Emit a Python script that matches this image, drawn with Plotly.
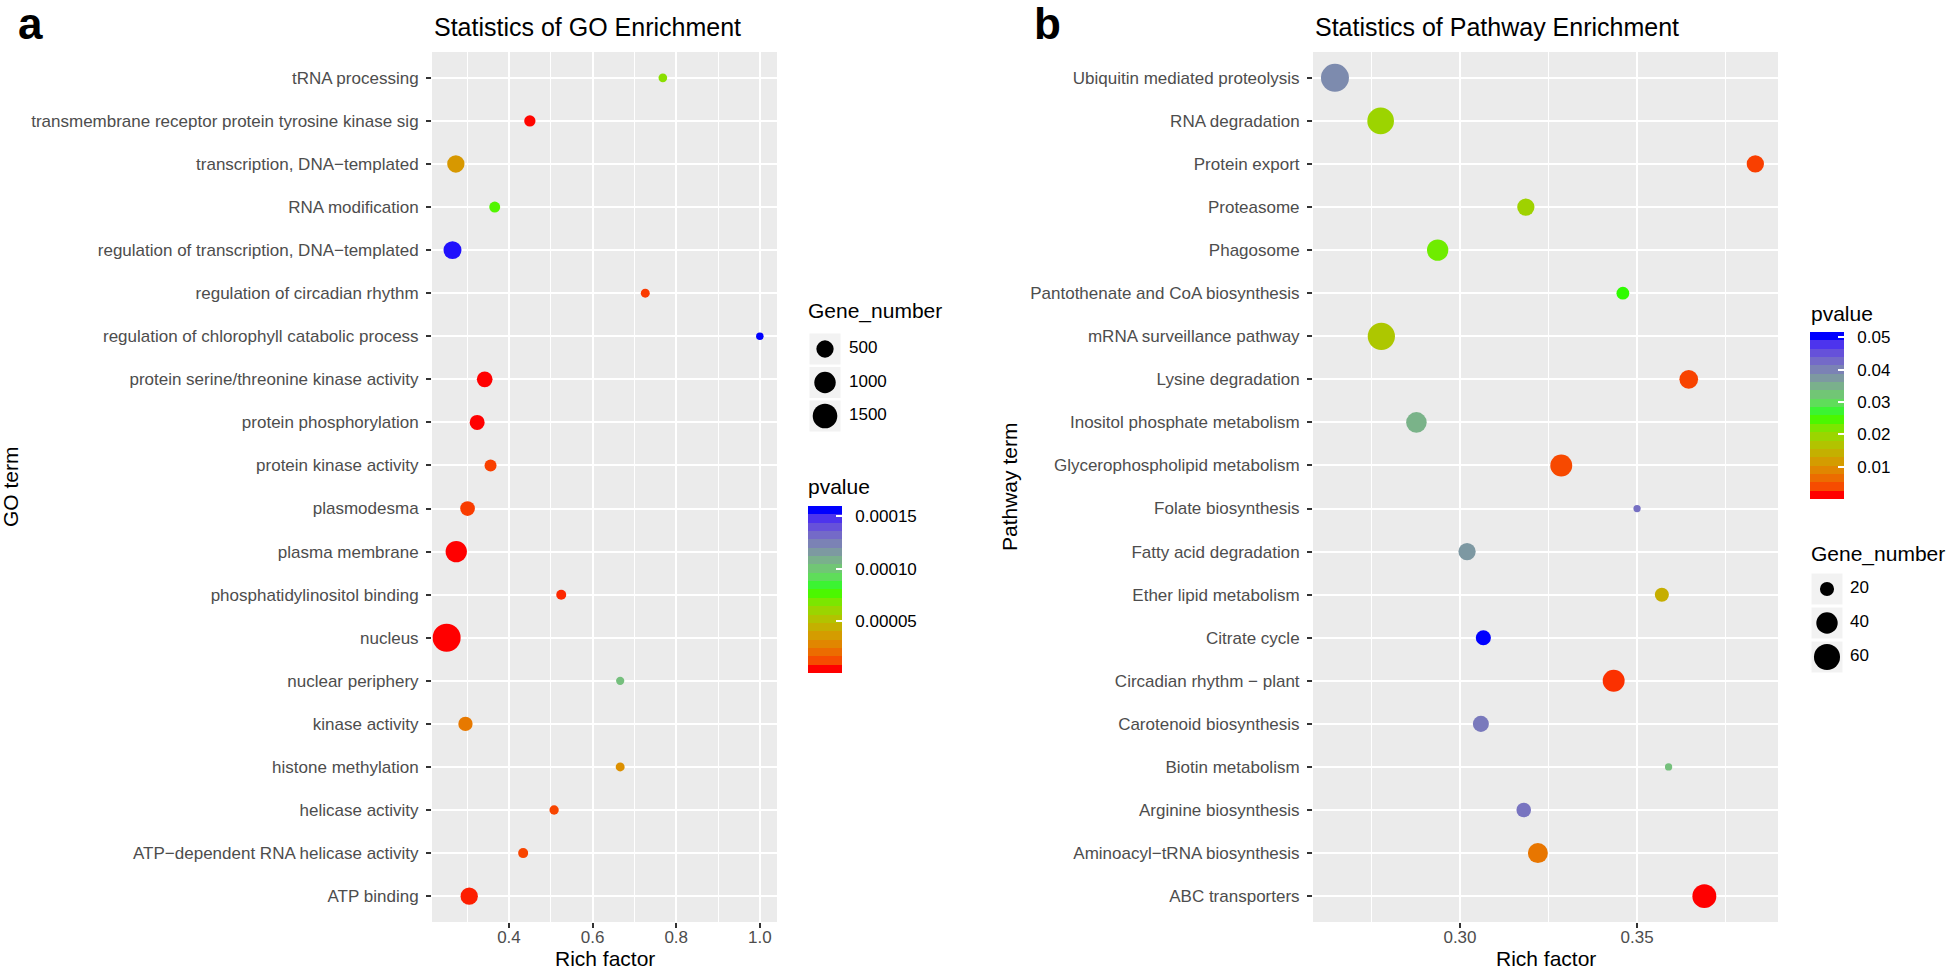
import math
import plotly.graph_objects as go

# ---------------- data ----------------
go_terms = [
    "tRNA processing",
    "transmembrane receptor protein tyrosine kinase sig",
    "transcription, DNA\u2212templated",
    "RNA modification",
    "regulation of transcription, DNA\u2212templated",
    "regulation of circadian rhythm",
    "regulation of chlorophyll catabolic process",
    "protein serine/threonine kinase activity",
    "protein phosphorylation",
    "protein kinase activity",
    "plasmodesma",
    "plasma membrane",
    "phosphatidylinositol binding",
    "nucleus",
    "nuclear periphery",
    "kinase activity",
    "histone methylation",
    "helicase activity",
    "ATP\u2212dependent RNA helicase activity",
    "ATP binding",
]
go_rich = [0.768, 0.450, 0.273, 0.366, 0.265, 0.726, 1.000, 0.342, 0.324, 0.356,
           0.301, 0.274, 0.525, 0.251, 0.666, 0.296, 0.666, 0.508, 0.434, 0.305]
go_genes = [17, 84, 500, 72, 570, 21, 10, 353, 296, 113,
            274, 980, 42, 2150, 13, 246, 21, 27, 42, 500]
go_pvalue = [6.4e-5, 2e-7, 3.2e-5, 7.5e-5, 1.585e-4, 5e-6, 1.6e-4, 1e-9, 1e-9, 6e-6,
             5.5e-6, 1e-12, 2.5e-6, 1e-30, 1.04e-4, 2.1e-5, 2.9e-5, 7e-6, 7e-6, 1.6e-6]

path_terms = [
    "Ubiquitin mediated proteolysis",
    "RNA degradation",
    "Protein export",
    "Proteasome",
    "Phagosome",
    "Pantothenate and CoA biosynthesis",
    "mRNA surveillance pathway",
    "Lysine degradation",
    "Inositol phosphate metabolism",
    "Glycerophospholipid metabolism",
    "Folate biosynthesis",
    "Fatty acid degradation",
    "Ether lipid metabolism",
    "Citrate cycle",
    "Circadian rhythm \u2212 plant",
    "Carotenoid biosynthesis",
    "Biotin metabolism",
    "Arginine biosynthesis",
    "Aminoacyl\u2212tRNA biosynthesis",
    "ABC transporters",
]
path_rich = [0.2647, 0.2776, 0.3834, 0.3186, 0.2937, 0.3460, 0.2778, 0.3646, 0.2877, 0.3286,
             0.3500, 0.3020, 0.3570, 0.3066, 0.3434, 0.3059, 0.3589, 0.3180, 0.3220, 0.3690]
path_genes = [70, 63, 27, 27, 40, 18, 66, 31, 37, 42,
              14, 27, 20, 22, 42, 24, 14, 21, 35, 50]
path_pvalue = [0.0397, 0.0190, 0.0020, 0.0186, 0.0227, 0.0253, 0.0170, 0.0022, 0.0350, 0.0026,
               0.0428, 0.0382, 0.0134, 0.0516, 0.0013, 0.0418, 0.0335, 0.0423, 0.0065, 0.0001]

go_size_breaks = [500, 1000, 1500]
path_size_breaks = [20, 40, 60]
go_p_ticks = [0.00005, 0.00010, 0.00015]
go_p_labels = ["0.00005", "0.00010", "0.00015"]
path_p_ticks = [0.01, 0.02, 0.03, 0.04, 0.05]
path_p_labels = ["0.01", "0.02", "0.03", "0.04", "0.05"]

# ---------------- colour scale (Lab interpolation red -> green -> blue) ----------------
def _lin(c):
    c = c / 255.0
    return c / 12.92 if c <= 0.04045 else ((c + 0.055) / 1.055) ** 2.4

def _gam(c):
    c = max(0.0, min(1.0, c))
    v = 12.92 * c if c <= 0.0031308 else 1.055 * c ** (1 / 2.4) - 0.055
    return int(round(v * 255))

WHITE = (0.95047, 1.0, 1.08883)

def rgb2lab(rgb):
    r, g, b = (_lin(v) for v in rgb)
    X = 0.4124 * r + 0.3576 * g + 0.1805 * b
    Y = 0.2126 * r + 0.7152 * g + 0.0722 * b
    Z = 0.0193 * r + 0.1192 * g + 0.9505 * b
    def f(t):
        return t ** (1 / 3) if t > 216 / 24389 else (24389 / 27 * t + 16) / 116
    fx, fy, fz = f(X / WHITE[0]), f(Y / WHITE[1]), f(Z / WHITE[2])
    return (116 * fy - 16, 500 * (fx - fy), 200 * (fy - fz))

def lab2rgb(lab):
    L, a, b = lab
    fy = (L + 16) / 116
    fx = fy + a / 500
    fz = fy - b / 200
    def finv(t):
        return t ** 3 if t ** 3 > 216 / 24389 else (116 * t - 16) / (24389 / 27)
    X, Y, Z = finv(fx) * WHITE[0], finv(fy) * WHITE[1], finv(fz) * WHITE[2]
    r = 3.2406 * X - 1.5372 * Y - 0.4986 * Z
    g = -0.9689 * X + 1.8758 * Y + 0.0415 * Z
    bb = 0.0557 * X - 0.2040 * Y + 1.0570 * Z
    return (_gam(r), _gam(g), _gam(bb))

ANCHORS = [rgb2lab((255, 0, 0)), rgb2lab((0, 255, 0)), rgb2lab((0, 0, 255))]

def ramp(t):
    seg = min(int(t * 2), 1)
    u = t * 2 - seg
    a, b = ANCHORS[seg], ANCHORS[seg + 1]
    lab = tuple(a[i] + (b[i] - a[i]) * u for i in range(3))
    r, g, bl = lab2rgb(lab)
    return f"rgb({r},{g},{bl})"

smooth_scale = [[i / 200, ramp(i / 200)] for i in range(201)]
stepped_scale = []
for i in range(20):
    c = ramp(i / 19)
    stepped_scale.append([i / 20, c])
    stepped_scale.append([(i + 1) / 20, c])

# ---------------- size scale (area-like, ggplot style) ----------------
def size_scale(values, lo, hi, dmin, dmax):
    return [dmin + (dmax - dmin) * math.sqrt(max(v - lo, 0) / (hi - lo)) for v in values]

GO_D = (7.5, 28.0)
PATH_D = (7.3, 28.0)
go_lo, go_hi = min(go_genes), max(go_genes)
path_lo, path_hi = min(path_genes), max(path_genes)

# ---------------- layout helpers ----------------
W, H = 1946, 969
FONT = "Liberation Sans"

def px(x):
    return x / W

def py(y):
    return 1 - y / H

fig = go.Figure()

# main point traces
fig.add_trace(go.Scatter(
    x=go_rich, y=go_terms, mode="markers", xaxis="x", yaxis="y",
    marker=dict(size=size_scale(go_genes, go_lo, go_hi, *GO_D), sizemode="diameter",
                color=go_pvalue, colorscale=smooth_scale,
                cmin=min(go_pvalue), cmax=max(go_pvalue), showscale=False,
                line=dict(width=0), opacity=1),
    showlegend=False, hoverinfo="x+y"))
fig.add_trace(go.Scatter(
    x=go_rich, y=go_terms, mode="markers", xaxis="x", yaxis="y",
    marker=dict(size=1, color=go_pvalue, colorscale=stepped_scale, opacity=0,
                cmin=min(go_pvalue), cmax=max(go_pvalue), showscale=True,
                colorbar=dict(x=px(808), xanchor="left", xpad=0, ypad=0,
                              y=py(589.5), yanchor="middle", lenmode="pixels", len=167,
                              thicknessmode="pixels", thickness=34, outlinewidth=0,
                              tickvals=go_p_ticks,
                              ticktext=["\u00a0\u00a0" + t for t in go_p_labels],
                              ticks="inside", ticklen=6, tickcolor="white", tickwidth=1.5,
                              tickfont=dict(family=FONT, size=17, color="black"))),
    showlegend=False, hoverinfo="skip"))

fig.add_trace(go.Scatter(
    x=path_rich, y=path_terms, mode="markers", xaxis="x2", yaxis="y2",
    marker=dict(size=size_scale(path_genes, path_lo, path_hi, *PATH_D), sizemode="diameter",
                color=path_pvalue, colorscale=smooth_scale,
                cmin=min(path_pvalue), cmax=max(path_pvalue), showscale=False,
                line=dict(width=0), opacity=1),
    showlegend=False, hoverinfo="x+y"))
fig.add_trace(go.Scatter(
    x=path_rich, y=path_terms, mode="markers", xaxis="x2", yaxis="y2",
    marker=dict(size=1, color=path_pvalue, colorscale=stepped_scale, opacity=0,
                cmin=min(path_pvalue), cmax=max(path_pvalue), showscale=True,
                colorbar=dict(x=px(1810), xanchor="left", xpad=0, ypad=0,
                              y=py(415.5), yanchor="middle", lenmode="pixels", len=167,
                              thicknessmode="pixels", thickness=34, outlinewidth=0,
                              tickvals=path_p_ticks,
                              ticktext=["\u00a0\u00a0" + t for t in path_p_labels],
                              ticks="inside", ticklen=6, tickcolor="white", tickwidth=1.5,
                              tickfont=dict(family=FONT, size=17, color="black"))),
    showlegend=False, hoverinfo="skip"))

# size legends (drawn on their own hidden axes)
def add_size_legend(breaks, lo, hi, dmin, dmax, xa, ya, key_x, lab_x):
    rows = list(range(len(breaks)))
    fig.add_trace(go.Scatter(x=[key_x] * len(breaks), y=rows, mode="markers", xaxis=xa, yaxis=ya,
                             marker=dict(symbol="square", size=31, color="#F2F2F2", line=dict(width=0)),
                             showlegend=False, hoverinfo="skip"))
    fig.add_trace(go.Scatter(x=[key_x] * len(breaks), y=rows, mode="markers", xaxis=xa, yaxis=ya,
                             marker=dict(size=size_scale(breaks, lo, hi, dmin, dmax), sizemode="diameter",
                                         color="#000000", opacity=1, line=dict(width=0)),
                             showlegend=False, hoverinfo="skip"))
    fig.add_trace(go.Scatter(x=[lab_x] * len(breaks), y=rows, mode="text", xaxis=xa, yaxis=ya,
                             text=[str(b) for b in breaks], textposition="middle right",
                             textfont=dict(family=FONT, size=17, color="black"),
                             showlegend=False, hoverinfo="skip"))

add_size_legend(go_size_breaks, go_lo, go_hi, *GO_D, "x3", "y3", 825, 849)
add_size_legend(path_size_breaks, path_lo, path_hi, *PATH_D, "x4", "y4", 1827, 1850)

tick_font = dict(family=FONT, size=17, color="#4D4D4D")
common_x = dict(showgrid=True, gridcolor="white", gridwidth=2, zeroline=False, showline=False,
                ticks="outside", ticklen=5, tickwidth=1.5, tickcolor="#333333",
                tickfont=tick_font, fixedrange=True, ticklabelstandoff=-5)
common_y = dict(type="category", showgrid=True, gridcolor="white", gridwidth=2, zeroline=False,
                showline=False, ticks="outside", ticklen=5, tickwidth=1.5, tickcolor="#333333",
                tickfont=tick_font, range=[-0.6, 19.6], ticklabelstandoff=4, fixedrange=True)

fig.update_layout(
    width=W, height=H, margin=dict(l=0, r=0, t=0, b=0),
    paper_bgcolor="white", plot_bgcolor="rgba(0,0,0,0)",
    font=dict(family=FONT, color="black"),
    xaxis=dict(domain=[px(432), px(777)], range=[0.216, 1.041], anchor="y",
               tick0=0, dtick=0.2, tickformat=".1f",
               minor=dict(dtick=0.1, tick0=0, showgrid=True, gridcolor="white", gridwidth=1),
               **common_x),
    yaxis=dict(domain=[py(922), py(52)], anchor="x", categoryorder="array",
               categoryarray=go_terms[::-1], **common_y),
    xaxis2=dict(domain=[px(1313), px(1778)], range=[0.2585, 0.3898], anchor="y2",
                tick0=0, dtick=0.05, tickformat=".2f",
                minor=dict(dtick=0.025, tick0=0, showgrid=True, gridcolor="white", gridwidth=1),
                **common_x),
    yaxis2=dict(domain=[py(922), py(52)], anchor="x2", categoryorder="array",
                categoryarray=path_terms[::-1], **common_y),
    xaxis3=dict(domain=[px(800), px(930)], range=[800, 930], visible=False, fixedrange=True),
    yaxis3=dict(domain=[py(432.75), py(332.25)], range=[2.5, -0.5], visible=False, fixedrange=True),
    xaxis4=dict(domain=[px(1800), px(1940)], range=[1800, 1940], visible=False, fixedrange=True),
    yaxis4=dict(domain=[py(674), py(572)], range=[2.5, -0.5], visible=False, fixedrange=True),
    shapes=[
        dict(type="rect", xref="x domain", yref="y domain", x0=0, x1=1, y0=0, y1=1,
             fillcolor="#EBEBEB", line=dict(width=0), layer="below"),
        dict(type="rect", xref="x2 domain", yref="y2 domain", x0=0, x1=1, y0=0, y1=1,
             fillcolor="#EBEBEB", line=dict(width=0), layer="below"),
    ],
)

def ann(text, x, y, size, xanchor="left", bold=False, angle=0, color="black"):
    return dict(text=f"<b>{text}</b>" if bold else text, x=px(x), y=py(y), xref="paper", yref="paper",
                xanchor=xanchor, yanchor="middle", showarrow=False, textangle=angle,
                font=dict(family=FONT, size=size, color=color))

fig.update_layout(annotations=[
    ann("a", 16, 24, 44, bold=True),
    ann("b", 1032, 24, 44, bold=True),
    ann("Statistics of GO Enrichment", 432, 27, 25),
    ann("Statistics of Pathway Enrichment", 1313, 27, 25),
    ann("Rich factor", 604.5, 958, 21, xanchor="center"),
    ann("Rich factor", 1545.5, 958, 21, xanchor="center"),
    ann("GO term", 11, 487, 21, xanchor="center", angle=-90),
    ann("Pathway term", 1010, 487, 21, xanchor="center", angle=-90),
    ann("Gene_number", 806, 311, 21),
    ann("pvalue", 806, 487, 21),
    ann("pvalue", 1809, 313, 21),
    ann("Gene_number", 1809, 554, 21),
])

fig.write_html("out.html", config={"displayModeBar": False},
               post_script="document.body.style.margin='0px';")
